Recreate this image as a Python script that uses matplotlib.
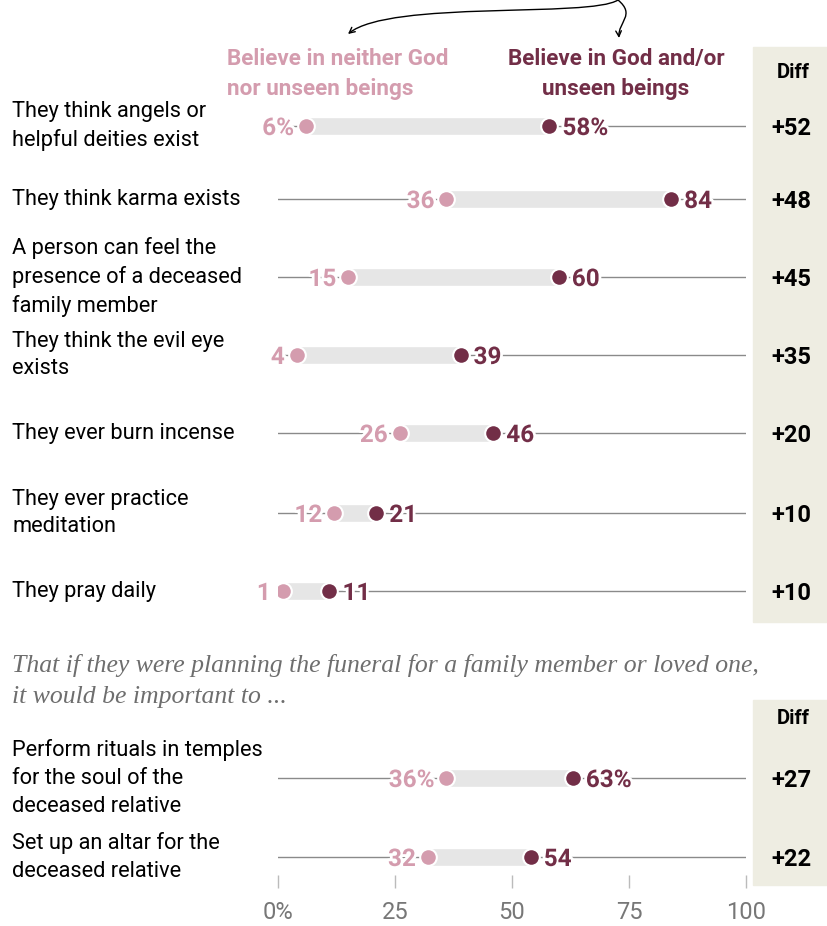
import matplotlib
matplotlib.use('Agg')
import matplotlib.pyplot as plt
import matplotlib.patheffects as pe
from matplotlib.patches import Rectangle, FancyArrowPatch
from matplotlib.path import Path

# data
labels_top = ['They think angels or\nhelpful deities exist',
              'They think karma exists',
              'A person can feel the\npresence of a deceased\nfamily member',
              'They think the evil eye\nexists',
              'They ever burn incense',
              'They ever practice\nmeditation',
              'They pray daily']
neither_top = [6, 36, 15, 4, 26, 12, 1]
believe_top = [58, 84, 60, 39, 46, 21, 11]
diff_top = [52, 48, 45, 35, 20, 10, 10]

labels_bot = ['Perform rituals in temples\nfor the soul of the\ndeceased relative',
              'Set up an altar for the\ndeceased relative']
neither_bot = [36, 32]
believe_bot = [63, 54]
diff_bot = [27, 22]

ticks = [0, 25, 50, 75, 100]
tick_labels = ['0%', '25', '50', '75', '100']

# layout (pixel rows)
rows_top = [126, 199, 277, 355, 433, 513, 591]
rows_bot = [778, 857]

PINK = '#d49cae'
MAROON = '#722e47'
GRAY = '#8a8a8a'
BAR = '#e6e6e6'
BEIGE = '#eeede2'

plt.rcParams['font.family'] = ['Roboto', 'DejaVu Sans']

W, H = 827, 926
fig = plt.figure(figsize=(W / 100, H / 100), dpi=100)
x0, x100, ybot = 278, 746, 875
ax = fig.add_axes([x0 / W, (H - ybot) / H, (x100 - x0) / W, ybot / H])
ax.set_xlim(0, 100)
ax.set_ylim(ybot, 0)
for s in ax.spines.values():
    s.set_visible(False)
ax.set_yticks([])
ax.set_xticks(ticks)
ax.set_xticklabels(tick_labels)
ax.tick_params(axis='x', length=9, width=1, color='#bbbbbb', pad=10,
               labelsize=17, labelcolor='#777777')

pxu = (x100 - x0) / 100.0


def px(x):
    return (x - x0) / pxu


white = [pe.withStroke(linewidth=4, foreground='white')]


def draw_rows(labels, a, b, d, rows, pct_first=True):
    for i, (lab, va, vb, dv, y) in enumerate(zip(labels, a, b, d, rows)):
        ax.plot([0, 100], [y, y], color=GRAY, lw=1, zorder=1)
        ax.plot([va, vb], [y, y], color=BAR, lw=12, solid_capstyle='butt', zorder=2)
        ax.plot(va, y, 'o', ms=12, color=PINK, mec='white', mew=1.5, zorder=4)
        ax.plot(vb, y, 'o', ms=12, color=MAROON, mec='white', mew=1.5, zorder=4)
        sa = f'{va}%' if (i == 0 and pct_first) else str(va)
        sb = f'{vb}%' if (i == 0 and pct_first) else str(vb)
        ax.text(va - 12 / pxu, y, sa, color=PINK, fontsize=17.5, fontweight='bold',
                ha='right', va='center_baseline', zorder=3, path_effects=white)
        ax.text(vb + 13 / pxu, y, sb, color=MAROON, fontsize=17.5, fontweight='bold',
                ha='left', va='center_baseline', zorder=3, path_effects=white)
        ax.text(px(12), y, lab, fontsize=15.7, color='black', ha='left', va='center',
                linespacing=1.42, clip_on=False)
        ax.text(px(791), y, f'+{dv}', fontsize=17, fontweight='bold', ha='center',
                va='center_baseline', clip_on=False)


# beige diff columns
ax.add_patch(Rectangle((px(753), 47), px(827) - px(753), 622 - 47, color=BEIGE,
                       clip_on=False, zorder=0))
ax.add_patch(Rectangle((px(753), 700), px(827) - px(753), 885 - 700, color=BEIGE,
                       clip_on=False, zorder=0))
ax.text(px(793), 72, 'Diff', fontsize=14.5, fontweight='bold', ha='center', va='center',
        clip_on=False)
ax.text(px(793), 718, 'Diff', fontsize=14.5, fontweight='bold', ha='center', va='center',
        clip_on=False)

draw_rows(labels_top, neither_top, believe_top, diff_top, rows_top)
draw_rows(labels_bot, neither_bot, believe_bot, diff_bot, rows_bot)

# headers
ax.text(px(227), 74, 'Believe in neither God\nnor unseen beings', color=PINK,
        fontsize=16.2, fontweight='bold', ha='left', va='center', linespacing=1.45,
        clip_on=False)
ax.text(px(616), 74, 'Believe in God and/or\nunseen beings', color=MAROON,
        fontsize=16.2, fontweight='bold', ha='center', va='center', linespacing=1.45,
        clip_on=False)

# arrows (curved pointers to the two headers)
left_path = Path([(px(618), 0), (px(590), 18), (px(390), 0), (px(348), 34)],
                 [Path.MOVETO, Path.CURVE4, Path.CURVE4, Path.CURVE4])
right_path = Path([(px(618), 0), (px(636), 15), (px(618), 22), (px(619), 38)],
                  [Path.MOVETO, Path.CURVE4, Path.CURVE4, Path.CURVE4])
for p in (left_path, right_path):
    ax.add_patch(FancyArrowPatch(path=p, arrowstyle='->', mutation_scale=10,
                                 color='black', lw=1, clip_on=False))

# subtitle
ax.text(px(12), 681, 'That if they were planning the funeral for a family member or loved one,\n'
        'it would be important to ...', family='Liberation Serif', style='italic',
        fontsize=18.5, color='#6e6e6e', ha='left', va='center', linespacing=1.55,
        clip_on=False)

fig.savefig('out.png', dpi=100)
